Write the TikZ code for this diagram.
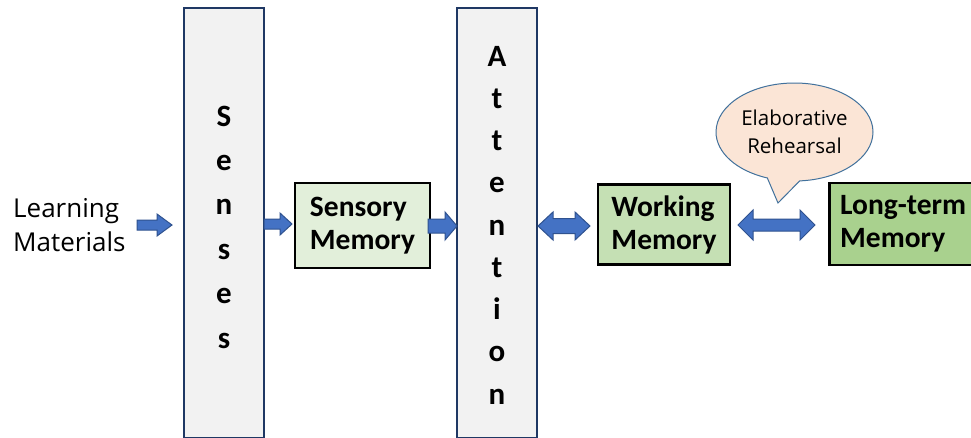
\documentclass[tikz,border=0pt]{standalone}
\usepackage{fontspec}
\setmainfont{Carlito}
\newfontfamily\segfont{Open Sans}
\newfontfamily\calfont{Carlito}
\usetikzlibrary{shapes.callouts}
\definecolor{colfill}{HTML}{F2F2F2}
\definecolor{colline}{HTML}{1F3864}
\definecolor{sensfill}{HTML}{E2EFDA}
\definecolor{workfill}{HTML}{C5E0B4}
\definecolor{longfill}{HTML}{A9D18E}
\definecolor{arrfill}{HTML}{4472C4}
\definecolor{arrline}{HTML}{2F528F}
\definecolor{bubfill}{HTML}{FBE5D6}
\definecolor{bubline}{HTML}{41719C}
\newcommand\rblock[6]{% x1,x2,yc,shaft,head,headlen
  \draw[blockarrow] (#1,{#3-#4}) -- ({#2-#6},{#3-#4}) -- ({#2-#6},{#3-#5}) -- (#2,#3)
    -- ({#2-#6},{#3+#5}) -- ({#2-#6},{#3+#4}) -- (#1,{#3+#4}) -- cycle;}
\newcommand\dblock[6]{%
  \draw[blockarrow] (#1,#3) -- ({#1+#6},{#3-#5}) -- ({#1+#6},{#3-#4}) -- ({#2-#6},{#3-#4})
    -- ({#2-#6},{#3-#5}) -- (#2,#3) -- ({#2-#6},{#3+#5}) -- ({#2-#6},{#3+#4})
    -- ({#1+#6},{#3+#4}) -- ({#1+#6},{#3+#5}) -- cycle;}
\tikzset{
  column/.style={draw=colline, line width=2pt, fill=colfill, rectangle, inner sep=0pt},
  colletter/.style={font=\calfont\bfseries\fontsize{31}{31}\selectfont, anchor=base, inner sep=0pt},
  membox/.style={draw=black, line width=2.5pt, rectangle, inner sep=0pt, align=left,
    font=\calfont\bfseries\fontsize{29.5}{33}\selectfont},
  blockarrow/.style={draw=arrline, line width=1pt, fill=arrfill, line join=miter},
  plain/.style={font=\segfont\fontsize{26}{34}\selectfont, align=left, inner sep=0pt},
}
\begin{document}
\begin{tikzpicture}[x=1pt,y=-1pt]
\useasboundingbox (0,0) rectangle (971,437);
\fill[white] (0,0) rectangle (971,437);
% columns
\node[column, minimum width=80pt, minimum height=430pt] (senses) at (223.5,223) {};
\node[column, minimum width=80pt, minimum height=430pt] (attention) at (497,223) {};
\foreach \l/\y in {S/126,e/170,n/214,s/259,e/303,s/348}
  \node[colletter] at (224,\y) {\l};
\foreach \l/\y in {A/66,t/108,t/150,e/192,n/235,t/277,i/319,o/361,n/404}
  \node[colletter] at (497,\y) {\l};
% label
\node[plain, anchor=west] (learn) at (13,225) {Learning\\Materials};
% memory boxes
\node[membox, fill=sensfill, minimum width=135pt, minimum height=85pt] (sensory) at (362.5,225.5) {Sensory\\Memory};
\node[membox, fill=workfill, minimum width=132pt, minimum height=80pt] (working) at (664,224.5) {Working\\Memory};
\node[membox, fill=longfill, minimum width=150pt, minimum height=82pt, anchor=west] (longterm) at (828,224) {};
\node[font=\calfont\bfseries\fontsize{29.5}{33}\selectfont, align=left, anchor=west, inner sep=0pt] at (840,224) {Long-term\\Memory};
% bubble
\node[ellipse callout, draw=bubline, line width=1pt, fill=bubfill, minimum width=157pt, minimum height=98pt,
  callout absolute pointer={(778,203)}, callout pointer arc=24, inner sep=0pt,
  font=\segfont\fontsize{20.5}{28}\selectfont, align=center] (bubble) at (794.5,132) {Elaborative\\Rehearsal};
% arrows
\rblock{137}{172}{225}{5}{11}{15}
\rblock{264}{292}{224}{5}{11}{12}
\rblock{428}{457}{226}{7}{14}{12}
\dblock{538}{590}{226}{7.5}{14}{15}
\dblock{738}{815}{225}{6}{15}{15}
\end{tikzpicture}
\end{document}
